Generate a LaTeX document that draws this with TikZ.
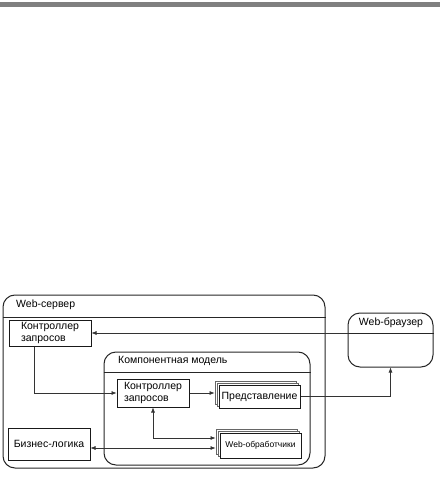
\documentclass[tikz,border=0pt]{standalone}
\usepackage{fontspec}
\setmainfont{Liberation Sans}
\usetikzlibrary{shadows,arrows.meta}

\begin{document}
\begin{tikzpicture}[x=1pt,y=-1pt]
				\tikzstyle{every node}=[font=\fontsize{10.5}{12.5}\selectfont,inner sep=2pt]
				\tikzstyle{frame}=[draw=black!85,line width=1pt,rounded corners=12pt]
				\tikzstyle{box}=[draw=black!90,line width=1pt,fill=white,align=left]
				\tikzstyle{stack}=[box,double copy shadow={shadow xshift=-2pt,shadow yshift=2pt,line width=0.5pt,draw=black!60}]
				\tikzstyle{title}=[anchor=west,inner sep=0pt]
				\tikzstyle{arr}=[draw=black!80,line width=0.6pt,-{Latex[length=5pt,width=4pt]}]
				\tikzstyle{dbl}=[arr,{Latex[length=5pt,width=4pt]}-{Latex[length=5pt,width=4pt]}]
				\useasboundingbox (0,0) rectangle (440,481);
				\fill[black!50] (0,2) rectangle (440,7);
				% containers
				\node[frame,minimum width=322,minimum height=173] (server) at (164,381.5) {};
				\draw[line width=0.8pt,black!85] (server.west |- 0,317) -- (server.east |- 0,317);
				\node[title] (serverlabel) at (16,305) {Web-сервер};
				\node[frame,minimum width=206,minimum height=113] (model) at (207,408.5) {};
				\draw[line width=0.8pt,black!85] (model.west |- 0,372) -- (model.east |- 0,372);
				\node[title] (modellabel) at (118,361) {Компонентная модель};
				\node[frame,minimum width=85,minimum height=54] (browser) at (390.5,340) {};
				\draw[line width=0.8pt,black!85] (browser.west |- 0,333) -- (browser.east |- 0,333);
				\node (browserlabel) at (391,323) {Web-браузер};
				% boxes
				\node[box,minimum width=82,minimum height=26] (ctrlouter) at (50,333) {Контроллер\\запросов};
				\node[box,minimum width=72,minimum height=28] (ctrlinner) at (153,393) {Контроллер\\запросов};
				\node[stack,minimum width=81,minimum height=23] (view) at (259.5,396.5) {Представление};
				\node[stack,minimum width=81,minimum height=25,font=\fontsize{8.5}{10}\selectfont] (handlers) at (260.5,445.5) {Web-обработчики};
				\node[box,minimum width=82,minimum height=32] (logic) at (49,444) {Бизнес-логика};
				% connectors
				\draw[arr] (browser.west |- ctrlouter.east) -- (ctrlouter.east);
				\draw[arr] ([xshift=-16pt]ctrlouter.south) |- (ctrlinner.west);
				\draw[arr] (ctrlinner.east) -- ([xshift=-4pt]view.west |- ctrlinner.east);
				\draw[dbl] (ctrlinner.south) |- ([xshift=-4pt,yshift=7.5pt]handlers.west);
				\draw[dbl] ([yshift=-4pt]logic.east) -- ([xshift=-4pt,yshift=-2.5pt]handlers.west);
				\draw[arr] (view.east) -| (browser.south);
\end{tikzpicture}
\end{document}
